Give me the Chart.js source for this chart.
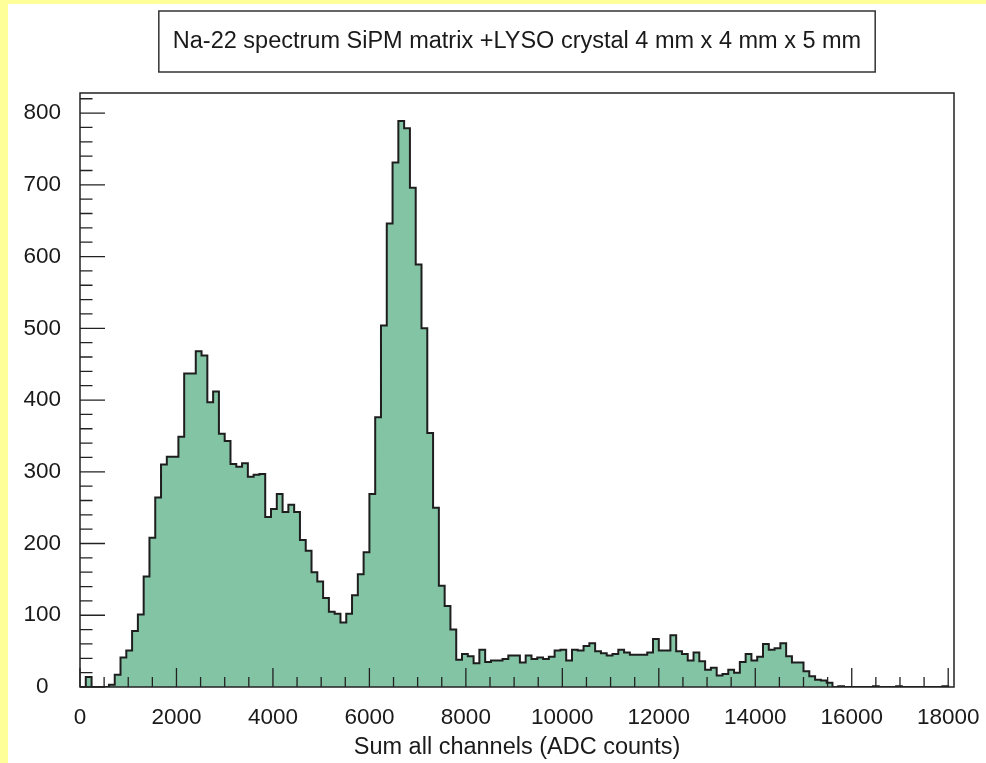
<!DOCTYPE html>
<html lang="en">
<head>
  <meta charset="UTF-8">
  <title>Na-22 spectrum</title>
  <script src="https://cdn.jsdelivr.net/npm/chart.js"></script>
  <style>
    body { margin: 0; background: #fff; }
    canvas { display: block; }
  </style>
</head>
<body>
  <canvas id="spectrum" width="986" height="763"></canvas>

  <script>
    // histogram: 150 bins, 120 ADC counts wide, starting at 0
    const binWidth = 120;
    const counts = [
      0, 14, 0, 0, 0, 3, 17, 41, 51, 78,
      101, 154, 208, 264, 310, 321, 321, 349, 437, 437,
      468, 462, 397, 412, 353, 343, 311, 307, 312, 293,
      296, 297, 237, 248, 269, 244, 254, 244, 205, 190,
      160, 147, 124, 105, 102, 90, 102, 128, 157, 188,
      269, 376, 504, 646, 731, 789, 779, 696, 589, 500,
      354, 250, 141, 113, 80, 38, 46, 43, 33, 52,
      35, 37, 37, 39, 44, 44, 34, 44, 39, 41,
      39, 42, 51, 52, 37, 52, 51, 57, 61, 50,
      47, 44, 46, 52, 48, 45, 45, 45, 48, 67,
      51, 51, 72, 50, 46, 37, 48, 36, 24, 27,
      16, 18, 24, 20, 35, 46, 37, 42, 60, 52,
      54, 61, 43, 34, 34, 22, 15, 10, 9, 6,
      0, 1, 0, 0, 0, 0, 0, 1, 0, 0,
      0, 1, 0, 0, 0, 0, 0, 0, 0, 1
    ];
    const xTicks = [0, 2000, 4000, 6000, 8000, 10000, 12000, 14000, 16000, 18000];
    const yTicks = [0, 100, 200, 300, 400, 500, 600, 700, 800];
    const xMinorStep = 500;
    const yMinorStep = 20;
    const xMax = 18120;
    const yMax = 828;
    const titleText = "Na-22 spectrum SiPM matrix +LYSO crystal 4 mm x 4 mm x 5 mm";
    const xTitle = "Sum all channels (ADC counts)";

    const fontFamily = '"Liberation Sans", Arial, sans-serif';
    const ink = "#1a1a1a";

    // left edge of each bin, plus closing edge at zero
    const points = counts.map((c, i) => ({ x: i * binWidth, y: c }));
    points.push({ x: counts.length * binWidth, y: 0 });

    const paper = {
      id: "paper",
      beforeDraw(chart) {
        const c = chart.ctx;
        c.save();
        c.fillStyle = "#ffff99";
        c.fillRect(0, 0, chart.width, chart.height);
        c.fillStyle = "#ffffff";
        c.fillRect(8, 4, chart.width - 8, chart.height - 4);
        c.restore();
      }
    };

    // ROOT style frame, inward ticks and boxed title
    const rootFrame = {
      id: "rootFrame",
      afterDatasetsDraw(chart) {
        const c = chart.ctx;
        const a = chart.chartArea;
        const xs = chart.scales.x, ys = chart.scales.y;
        c.save();
        c.strokeStyle = "#222";
        c.lineWidth = 1.5;
        c.strokeRect(a.left, a.top, a.right - a.left, a.bottom - a.top);

        c.lineWidth = 1.3;
        c.beginPath();
        for (let v = 0; v <= xTicks[xTicks.length - 1]; v += xMinorStep) {
          const px = xs.getPixelForValue(v);
          const len = xTicks.includes(v) ? 19 : 10;
          c.moveTo(px, a.bottom);
          c.lineTo(px, a.bottom - len);
        }
        for (let v = 0; v <= yMax; v += yMinorStep) {
          const py = ys.getPixelForValue(v);
          const len = yTicks.includes(v) ? 25 : 12.5;
          c.moveTo(a.left, py);
          c.lineTo(a.left + len, py);
        }
        c.stroke();

        // title box
        c.font = "23.5px " + fontFamily;
        c.textAlign = "center";
        c.textBaseline = "middle";
        const cx = (a.left + a.right) / 2;
        const w = c.measureText(titleText).width + 28;
        c.fillStyle = "#fff";
        c.fillRect(cx - w / 2, 11, w, 61);
        c.strokeStyle = "#333";
        c.lineWidth = 1.5;
        c.strokeRect(cx - w / 2, 11, w, 61);
        c.fillStyle = ink;
        c.fillText(titleText, cx, 42);
        c.restore();
      }
    };

    const tickFont = { family: fontFamily, size: 22.5 };

    new Chart(document.getElementById("spectrum"), {
      type: "line",
      data: {
        datasets: [{
          data: points,
          stepped: "before",
          fill: "origin",
          backgroundColor: "#83c4a5",
          borderColor: "#1e1e1e",
          borderWidth: 2,
          pointRadius: 0,
          tension: 0
        }]
      },
      options: {
        responsive: false,
        animation: false,
        devicePixelRatio: 1,
        layout: { padding: { top: 93, right: 32, left: 0, bottom: 0 } },
        plugins: { legend: { display: false }, tooltip: { enabled: false } },
        scales: {
          x: {
            type: "linear",
            min: 0,
            max: xMax,
            grid: { display: false, drawTicks: false },
            border: { display: false },
            afterBuildTicks: s => { s.ticks = xTicks.map(v => ({ value: v })); },
            ticks: {
              autoSkip: false, maxRotation: 0, padding: 17,
              font: tickFont, color: ink,
              callback: v => String(v)
            },
            title: {
              display: true, text: xTitle, color: ink,
              font: { family: fontFamily, size: 23.5 },
              padding: { top: 0, bottom: 1 }
            },
            afterFit: s => {
              s.height = 76;
              s.paddingLeft = 0;
              s.paddingRight = 0;
            }
          },
          y: {
            min: 0,
            max: yMax,
            grid: { display: false, drawTicks: false },
            border: { display: false },
            afterBuildTicks: s => { s.ticks = yTicks.map(v => ({ value: v })); },
            ticks: {
              crossAlign: "center", padding: 19,
              font: tickFont, color: ink,
              callback: v => String(v)
            },
            afterFit: s => {
              s.width = 80;
              s.paddingTop = 0;
              s.paddingBottom = 0;
            }
          }
        }
      },
      plugins: [paper, rootFrame]
    });
  </script>
</body>
</html>
